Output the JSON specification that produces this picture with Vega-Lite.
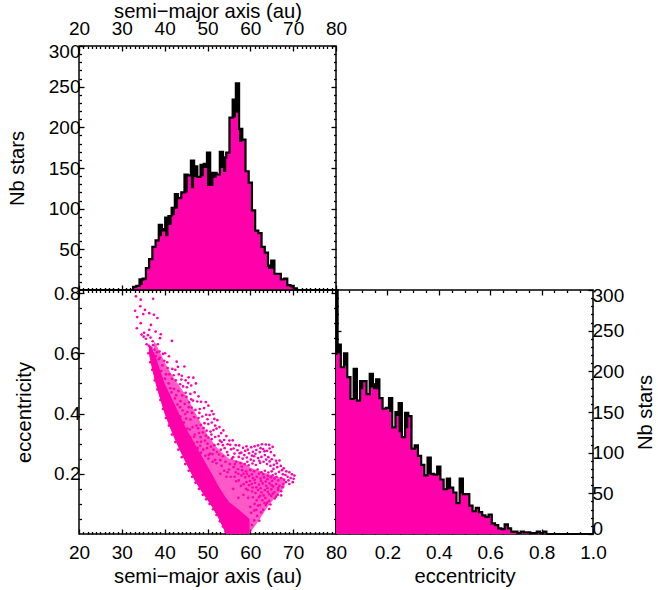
{"$schema":"https://vega.github.io/schema/vega-lite/v6.json","background":"white","padding":{"left":6,"top":0,"right":0,"bottom":0},"spacing":0,"bounds":"flush","align":"all","columns":2,"config":{"view":{"stroke":"black","strokeWidth":1.5},"font":"Liberation Sans","axis":{"labels":false,"domain":false,"grid":false,"ticks":true,"tickColor":"black","tickWidth":1.3,"zindex":1,"labelFont":"Liberation Sans","labelFontSize":19,"labelColor":"black","titleFont":"Liberation Sans","titleFontSize":20.2,"titleFontWeight":"normal","titleColor":"black","labelOverlap":false,"labelBound":false,"labelPadding":4}},"datasets":{
"top":[{"a":20,"n":0,"f":0},{"a":32.25,"n":0,"f":0},{"a":33,"n":4,"f":3},{"a":33.75,"n":5,"f":4},{"a":34.5,"n":13,"f":6},{"a":35.25,"n":14,"f":12},{"a":36,"n":27,"f":27},{"a":36.75,"n":38,"f":38},{"a":37.5,"n":53,"f":53},{"a":38.25,"n":61,"f":61},{"a":39,"n":80,"f":66},{"a":39.75,"n":75,"f":72},{"a":40.5,"n":89,"f":66},{"a":41.25,"n":91,"f":80},{"a":42,"n":101,"f":92},{"a":42.75,"n":118,"f":100},{"a":43.5,"n":113,"f":113},{"a":44.25,"n":120,"f":120},{"a":45,"n":142,"f":120},{"a":45.75,"n":141,"f":141},{"a":46.5,"n":159,"f":125},{"a":47.25,"n":152,"f":139},{"a":48,"n":139,"f":139},{"a":48.75,"n":154,"f":140},{"a":49.5,"n":155,"f":150},{"a":50.25,"n":169,"f":128},{"a":51,"n":144,"f":128},{"a":51.75,"n":144,"f":138},{"a":52.5,"n":142,"f":142},{"a":53.25,"n":170,"f":150},{"a":54,"n":163,"f":145},{"a":54.75,"n":169,"f":169},{"a":55.5,"n":212,"f":212},{"a":56.25,"n":234,"f":212},{"a":57,"n":254,"f":218},{"a":57.75,"n":198,"f":182},{"a":58.5,"n":185,"f":185},{"a":59.25,"n":146,"f":146},{"a":60,"n":132,"f":132},{"a":60.75,"n":98,"f":98},{"a":61.5,"n":73,"f":73},{"a":62.25,"n":70,"f":70},{"a":63,"n":53,"f":53},{"a":63.75,"n":46,"f":46},{"a":64.5,"n":30,"f":26},{"a":65.25,"n":36,"f":26},{"a":66,"n":20,"f":20},{"a":66.75,"n":20,"f":20},{"a":67.5,"n":13,"f":13},{"a":68.25,"n":14,"f":14},{"a":69,"n":6,"f":6},{"a":69.75,"n":5,"f":3},{"a":70.5,"n":2,"f":1},{"a":71.25,"n":0,"f":0},{"a":80,"n":0,"f":0}],
"right":[{"x":0,"n":300,"f":220},{"x":0.0125,"n":233,"f":222},{"x":0.025,"n":205,"f":205},{"x":0.0375,"n":222,"f":207},{"x":0.05,"n":193,"f":193},{"x":0.0625,"n":166,"f":166},{"x":0.075,"n":203,"f":166},{"x":0.0875,"n":164,"f":164},{"x":0.1,"n":188,"f":178},{"x":0.1125,"n":188,"f":188},{"x":0.125,"n":172,"f":172},{"x":0.1375,"n":197,"f":180},{"x":0.15,"n":184,"f":178},{"x":0.1625,"n":190,"f":178},{"x":0.175,"n":167,"f":167},{"x":0.1875,"n":154,"f":154},{"x":0.2,"n":155,"f":155},{"x":0.2125,"n":167,"f":150},{"x":0.225,"n":131,"f":131},{"x":0.2375,"n":150,"f":145},{"x":0.25,"n":161,"f":125},{"x":0.2625,"n":119,"f":119},{"x":0.275,"n":149,"f":130},{"x":0.2875,"n":145,"f":145},{"x":0.3,"n":105,"f":105},{"x":0.3125,"n":109,"f":105},{"x":0.325,"n":96,"f":96},{"x":0.3375,"n":85,"f":85},{"x":0.35,"n":72,"f":72},{"x":0.3625,"n":94,"f":74},{"x":0.375,"n":74,"f":74},{"x":0.3875,"n":73,"f":73},{"x":0.4,"n":83,"f":73},{"x":0.4125,"n":67,"f":67},{"x":0.425,"n":55,"f":55},{"x":0.4375,"n":68,"f":55},{"x":0.45,"n":57,"f":57},{"x":0.4625,"n":51,"f":51},{"x":0.475,"n":38,"f":38},{"x":0.4875,"n":68,"f":50},{"x":0.5,"n":49,"f":49},{"x":0.5125,"n":49,"f":49},{"x":0.525,"n":35,"f":35},{"x":0.5375,"n":28,"f":28},{"x":0.55,"n":32,"f":32},{"x":0.5625,"n":27,"f":27},{"x":0.575,"n":23,"f":23},{"x":0.5875,"n":21,"f":21},{"x":0.6,"n":24,"f":24},{"x":0.6125,"n":13,"f":13},{"x":0.625,"n":11,"f":11},{"x":0.6375,"n":7,"f":7},{"x":0.65,"n":6,"f":6},{"x":0.6625,"n":12,"f":10},{"x":0.675,"n":7,"f":7},{"x":0.6875,"n":3,"f":3},{"x":0.7,"n":3,"f":3},{"x":0.7125,"n":1,"f":1},{"x":0.725,"n":3,"f":3},{"x":0.7375,"n":2,"f":2},{"x":0.75,"n":2,"f":2},{"x":0.7625,"n":1,"f":1},{"x":0.775,"n":1,"f":1},{"x":0.7875,"n":3,"f":2},{"x":0.8,"n":1,"f":1},{"x":0.8125,"n":3,"f":2},{"x":0.825,"n":0,"f":0},{"x":1,"n":0,"f":0}],
"pts":[{"a":33.3,"e":0.789},{"a":34.4,"e":0.778},{"a":37.3,"e":0.781},{"a":34.3,"e":0.756},{"a":35.4,"e":0.744},{"a":36.4,"e":0.733},{"a":33.1,"e":0.741},{"a":33.6,"e":0.72},{"a":35,"e":0.73},{"a":37.5,"e":0.728},{"a":38.3,"e":0.717},{"a":34.4,"e":0.7},{"a":33.5,"e":0.683},{"a":36.8,"e":0.694},{"a":36.4,"e":0.678},{"a":37.9,"e":0.672},{"a":39.1,"e":0.663},{"a":38.9,"e":0.65},{"a":41.7,"e":0.641},{"a":34.6,"e":0.662},{"a":35.1,"e":0.655},{"a":35.6,"e":0.648},{"a":35.2,"e":0.668},{"a":36.1,"e":0.66},{"a":36.7,"e":0.652},{"a":37.2,"e":0.64},{"a":35.8,"e":0.63},{"a":36.3,"e":0.625},{"a":36.9,"e":0.618},{"a":37.6,"e":0.612},{"a":38.4,"e":0.63},{"a":38.8,"e":0.606},{"a":39.6,"e":0.598},{"a":40.1,"e":0.6},{"a":41,"e":0.59},{"a":40.6,"e":0.57},{"a":39.9,"e":0.575},{"a":42.8,"e":0.572},{"a":41.8,"e":0.548},{"a":42.5,"e":0.545},{"a":43.3,"e":0.53},{"a":44.6,"e":0.556},{"a":43.1,"e":0.555},{"a":44,"e":0.525},{"a":44.9,"e":0.51},{"a":45.6,"e":0.52},{"a":46.7,"e":0.519},{"a":47.3,"e":0.5},{"a":46.2,"e":0.493},{"a":45.2,"e":0.487},{"a":44.3,"e":0.49},{"a":43.6,"e":0.497},{"a":42.6,"e":0.51},{"a":41.7,"e":0.515},{"a":41.1,"e":0.53},{"a":47,"e":0.47},{"a":46,"e":0.465},{"a":45.1,"e":0.455},{"a":44.1,"e":0.46},{"a":43.2,"e":0.475},{"a":42.2,"e":0.482},{"a":48.5,"e":0.439},{"a":47.6,"e":0.44},{"a":46.6,"e":0.443},{"a":45.7,"e":0.437},{"a":44.7,"e":0.432},{"a":43.7,"e":0.441},{"a":50.2,"e":0.426},{"a":49.2,"e":0.418},{"a":48.2,"e":0.415},{"a":47.2,"e":0.412},{"a":46.3,"e":0.42},{"a":45.3,"e":0.405},{"a":44.2,"e":0.41},{"a":51,"e":0.408},{"a":50.5,"e":0.395},{"a":49.7,"e":0.396},{"a":48.8,"e":0.39},{"a":47.9,"e":0.385},{"a":46.9,"e":0.388},{"a":46,"e":0.38},{"a":45,"e":0.383},{"a":52.3,"e":0.378},{"a":51.6,"e":0.382},{"a":51,"e":0.37},{"a":50.2,"e":0.365},{"a":49.3,"e":0.368},{"a":48.4,"e":0.362},{"a":47.4,"e":0.36},{"a":46.5,"e":0.355},{"a":52.8,"e":0.355},{"a":52.1,"e":0.35},{"a":51.4,"e":0.345},{"a":50.7,"e":0.34},{"a":49.8,"e":0.343},{"a":48.9,"e":0.337},{"a":48,"e":0.335},{"a":47,"e":0.33},{"a":53.7,"e":0.344},{"a":53.2,"e":0.335},{"a":52.6,"e":0.325},{"a":51.8,"e":0.322},{"a":51,"e":0.315},{"a":50.2,"e":0.32},{"a":49.4,"e":0.31},{"a":48.5,"e":0.306},{"a":47.6,"e":0.305},{"a":54.4,"e":0.325},{"a":53.9,"e":0.312},{"a":53.3,"e":0.305},{"a":52.5,"e":0.298},{"a":51.6,"e":0.295},{"a":50.8,"e":0.29},{"a":49.9,"e":0.285},{"a":49,"e":0.28},{"a":55.9,"e":0.311},{"a":55.1,"e":0.31},{"a":54.7,"e":0.298},{"a":54,"e":0.285},{"a":53.1,"e":0.28},{"a":52.2,"e":0.272},{"a":51.2,"e":0.265},{"a":50.3,"e":0.262},{"a":57.4,"e":0.294},{"a":56.6,"e":0.295},{"a":58.3,"e":0.286},{"a":59.1,"e":0.291},{"a":60.2,"e":0.288},{"a":61,"e":0.291},{"a":61.8,"e":0.294},{"a":62.7,"e":0.298},{"a":63.6,"e":0.297},{"a":64.4,"e":0.296},{"a":65.2,"e":0.289},{"a":57,"e":0.278},{"a":57.9,"e":0.27},{"a":58.8,"e":0.276},{"a":59.7,"e":0.268},{"a":60.6,"e":0.273},{"a":61.4,"e":0.279},{"a":62.2,"e":0.272},{"a":63,"e":0.282},{"a":63.9,"e":0.276},{"a":64.8,"e":0.272},{"a":65.6,"e":0.261},{"a":55.5,"e":0.281},{"a":56.3,"e":0.267},{"a":57.3,"e":0.256},{"a":58.2,"e":0.25},{"a":59.2,"e":0.254},{"a":60.1,"e":0.247},{"a":60.9,"e":0.258},{"a":61.8,"e":0.252},{"a":62.6,"e":0.256},{"a":63.4,"e":0.262},{"a":64.2,"e":0.255},{"a":65,"e":0.248},{"a":66,"e":0.243},{"a":66.8,"e":0.244},{"a":54.8,"e":0.262},{"a":55.7,"e":0.25},{"a":56.7,"e":0.24},{"a":57.7,"e":0.235},{"a":58.7,"e":0.232},{"a":59.6,"e":0.228},{"a":60.5,"e":0.234},{"a":61.3,"e":0.229},{"a":62.3,"e":0.236},{"a":63.1,"e":0.24},{"a":63.9,"e":0.232},{"a":64.7,"e":0.226},{"a":65.5,"e":0.23},{"a":66.3,"e":0.222},{"a":67.1,"e":0.226},{"a":67.8,"e":0.218},{"a":53.6,"e":0.258},{"a":53,"e":0.245},{"a":54.2,"e":0.24},{"a":55.2,"e":0.232},{"a":56.1,"e":0.222},{"a":57.1,"e":0.215},{"a":58.1,"e":0.212},{"a":59,"e":0.208},{"a":60,"e":0.212},{"a":60.9,"e":0.208},{"a":61.7,"e":0.214},{"a":62.6,"e":0.205},{"a":63.4,"e":0.21},{"a":64.2,"e":0.204},{"a":65,"e":0.208},{"a":65.9,"e":0.2},{"a":66.7,"e":0.206},{"a":67.6,"e":0.198},{"a":68.4,"e":0.208},{"a":69.1,"e":0.205},{"a":69.7,"e":0.198},{"a":70.3,"e":0.194},{"a":70.1,"e":0.183},{"a":69.9,"e":0.172},{"a":69.4,"e":0.186},{"a":68.7,"e":0.19},{"a":67.9,"e":0.18},{"a":67.2,"e":0.186},{"a":66.5,"e":0.178},{"a":65.6,"e":0.184},{"a":64.8,"e":0.188},{"a":64,"e":0.182},{"a":63.2,"e":0.188},{"a":62.4,"e":0.184},{"a":61.5,"e":0.19},{"a":60.6,"e":0.186},{"a":59.7,"e":0.192},{"a":58.8,"e":0.188},{"a":57.9,"e":0.194},{"a":69.1,"e":0.166},{"a":68.3,"e":0.172},{"a":67.5,"e":0.156},{"a":67.7,"e":0.166},{"a":66.8,"e":0.16},{"a":66,"e":0.166},{"a":65.3,"e":0.158},{"a":64.5,"e":0.168},{"a":63.7,"e":0.16},{"a":62.9,"e":0.168},{"a":62,"e":0.164},{"a":61.1,"e":0.17},{"a":60.3,"e":0.166},{"a":67.2,"e":0.142},{"a":67.2,"e":0.128},{"a":66.5,"e":0.146},{"a":66.4,"e":0.13},{"a":65.6,"e":0.138},{"a":65.7,"e":0.118},{"a":64.9,"e":0.148},{"a":64.9,"e":0.126},{"a":64.1,"e":0.14},{"a":64.4,"e":0.11},{"a":63.4,"e":0.146},{"a":63.5,"e":0.12},{"a":62.6,"e":0.138},{"a":62.8,"e":0.112},{"a":61.8,"e":0.146},{"a":62,"e":0.122},{"a":61.2,"e":0.136},{"a":64.4,"e":0.083},{"a":63.6,"e":0.096},{"a":63,"e":0.08},{"a":62.2,"e":0.096},{"a":62.1,"e":0.044},{"a":61.6,"e":0.06},{"a":61.4,"e":0.08},{"a":61,"e":0.1},{"a":60.6,"e":0.122},{"a":60.2,"e":0.07},{"a":60.4,"e":0.03},{"a":60.9,"e":0.045},{"a":60,"e":0.09},{"a":59.5,"e":0.12},{"a":59,"e":0.15},{"a":58.4,"e":0.13},{"a":57.8,"e":0.16},{"a":57.2,"e":0.12},{"a":56.7,"e":0.175},{"a":56,"e":0.15},{"a":55.4,"e":0.19},{"a":54.7,"e":0.205},{"a":53.9,"e":0.21},{"a":53,"e":0.2},{"a":52.1,"e":0.235},{"a":51.2,"e":0.24},{"a":50.2,"e":0.25},{"a":49.5,"e":0.26},{"a":48.5,"e":0.27},{"a":47.7,"e":0.285},{"a":46.8,"e":0.3},{"a":46,"e":0.32},{"a":45.3,"e":0.35},{"a":44.5,"e":0.37},{"a":43.7,"e":0.39},{"a":43,"e":0.43},{"a":42.4,"e":0.45},{"a":41.6,"e":0.47},{"a":40.9,"e":0.5},{"a":40.3,"e":0.53},{"a":39.5,"e":0.56},{"a":38.6,"e":0.58},{"a":37.9,"e":0.59},{"a":36.2,"e":0.6},{"a":36.6,"e":0.57},{"a":37.1,"e":0.545},{"a":37.7,"e":0.51},{"a":38.3,"e":0.48},{"a":39,"e":0.445},{"a":39.6,"e":0.415},{"a":40.3,"e":0.385},{"a":41,"e":0.36},{"a":41.7,"e":0.33},{"a":42.5,"e":0.305},{"a":43.2,"e":0.28},{"a":44,"e":0.255},{"a":44.8,"e":0.232},{"a":45.6,"e":0.21},{"a":46.4,"e":0.19},{"a":47.2,"e":0.17},{"a":48,"e":0.15},{"a":48.9,"e":0.13},{"a":49.7,"e":0.115},{"a":50.5,"e":0.1},{"a":51.3,"e":0.082},{"a":52.1,"e":0.063},{"a":52.9,"e":0.042},{"a":53.6,"e":0.025},{"a":54.2,"e":0.008},{"a":47.5,"e":0.263},{"a":50.4,"e":0.193},{"a":48.7,"e":0.247},{"a":45.9,"e":0.347},{"a":46.9,"e":0.323},{"a":48.3,"e":0.293},{"a":50.6,"e":0.267},{"a":51.8,"e":0.246},{"a":53.3,"e":0.226},{"a":54.4,"e":0.19},{"a":56.3,"e":0.19},{"a":57.3,"e":0.178},{"a":58.4,"e":0.165},{"a":59.4,"e":0.146},{"a":60.4,"e":0.141},{"a":61.5,"e":0.112},{"a":62.5,"e":0.072},{"a":63.3,"e":0.103},{"a":60.9,"e":0.078},{"a":44.8,"e":0.398},{"a":43.6,"e":0.421},{"a":42.7,"e":0.461},{"a":41.3,"e":0.484},{"a":40.1,"e":0.515},{"a":39.2,"e":0.541},{"a":38.2,"e":0.603},{"a":37.3,"e":0.627},{"a":38.9,"e":0.585},{"a":40.7,"e":0.551},{"a":42.1,"e":0.527},{"a":43.9,"e":0.513},{"a":45.5,"e":0.501},{"a":47.9,"e":0.457},{"a":49.6,"e":0.438},{"a":51.4,"e":0.398},{"a":50,"e":0.381},{"a":48.1,"e":0.402},{"a":46.4,"e":0.402},{"a":45.6,"e":0.421},{"a":46.2,"e":0.447},{"a":44.9,"e":0.469},{"a":47.8,"e":0.351},{"a":49.1,"e":0.352},{"a":51.8,"e":0.36},{"a":52.9,"e":0.31},{"a":50.9,"e":0.33},{"a":49.6,"e":0.326},{"a":48.4,"e":0.322},{"a":53.6,"e":0.295},{"a":55.3,"e":0.296},{"a":54.6,"e":0.272},{"a":52.7,"e":0.264},{"a":51.4,"e":0.28},{"a":50,"e":0.3},{"a":56.1,"e":0.284},{"a":56,"e":0.255},{"a":57.5,"e":0.268},{"a":58.6,"e":0.262},{"a":59.4,"e":0.28},{"a":60.4,"e":0.26},{"a":61.2,"e":0.266},{"a":62.4,"e":0.285},{"a":63.3,"e":0.275},{"a":64.5,"e":0.284},{"a":63.7,"e":0.247},{"a":62.1,"e":0.243},{"a":60.8,"e":0.243},{"a":59.3,"e":0.24},{"a":58,"e":0.224},{"a":56.4,"e":0.232},{"a":55,"e":0.214},{"a":64.5,"e":0.241},{"a":65.4,"e":0.216},{"a":66.2,"e":0.235},{"a":67.4,"e":0.212},{"a":68.2,"e":0.196},{"a":68.9,"e":0.178},{"a":66.1,"e":0.19},{"a":65.2,"e":0.195},{"a":64.1,"e":0.193},{"a":63,"e":0.198},{"a":62,"e":0.2},{"a":60.4,"e":0.198},{"a":59.2,"e":0.2},{"a":58.4,"e":0.2},{"a":57.2,"e":0.2},{"a":56.6,"e":0.205},{"a":65.1,"e":0.176},{"a":63.6,"e":0.174},{"a":62.5,"e":0.176},{"a":61,"e":0.18},{"a":59.9,"e":0.176},{"a":59.1,"e":0.172},{"a":66.5,"e":0.153},{"a":65,"e":0.162},{"a":64,"e":0.152},{"a":62.4,"e":0.152},{"a":61.4,"e":0.155},{"a":60.5,"e":0.154},{"a":59.7,"e":0.162},{"a":66,"e":0.124},{"a":65.2,"e":0.133},{"a":64.4,"e":0.132},{"a":63.1,"e":0.128},{"a":62.3,"e":0.127},{"a":61.8,"e":0.094},{"a":63.9,"e":0.104},{"a":64.7,"e":0.098}],
"core":[{"a":36.3,"lo":0.6,"hi":0.63},{"a":37,"lo":0.55,"hi":0.62},{"a":38,"lo":0.495,"hi":0.585},{"a":39,"lo":0.445,"hi":0.54},{"a":40,"lo":0.4,"hi":0.5},{"a":41,"lo":0.362,"hi":0.47},{"a":43,"lo":0.295,"hi":0.41},{"a":45,"lo":0.235,"hi":0.35},{"a":47,"lo":0.178,"hi":0.3},{"a":49,"lo":0.133,"hi":0.25},{"a":51,"lo":0.092,"hi":0.2},{"a":52.7,"lo":0.048,"hi":0.155},{"a":54.3,"lo":0,"hi":0.12},{"a":55.1,"lo":0,"hi":0.105},{"a":57.4,"lo":0,"hi":0.08},{"a":59.8,"lo":0,"hi":0.05}],
"mid":[{"a":37.5,"lo":0.52,"hi":0.64},{"a":38,"lo":0.495,"hi":0.63},{"a":40,"lo":0.4,"hi":0.57},{"a":42,"lo":0.325,"hi":0.52},{"a":45,"lo":0.235,"hi":0.46},{"a":48,"lo":0.155,"hi":0.38},{"a":50,"lo":0.113,"hi":0.33},{"a":52,"lo":0.07,"hi":0.29},{"a":55,"lo":0,"hi":0.25},{"a":58,"lo":0,"hi":0.24},{"a":60,"lo":0.005,"hi":0.22},{"a":62,"lo":0.045,"hi":0.21},{"a":64,"lo":0.09,"hi":0.2},{"a":66,"lo":0.125,"hi":0.19},{"a":68,"lo":0.155,"hi":0.185}]
},
"concat":[
{"width":257,"height":244,"data":{"name":"top"},"layer":[
{"mark":{"type":"area","interpolate":"step","color":"black"},"encoding":{"x":{"field":"a","type":"quantitative","scale":{"domain":[20,80],"nice":false},"axis":{"orient":"top","title":"semi−major axis (au)","labels":true,"labelFlush":false,"values":[20,30,40,50,60,70,80],"tickSize":-5,"titlePadding":-2,"labelPadding":13}},"y":{"field":"n","type":"quantitative","scale":{"domain":[0,300],"nice":false},"axis":{"orient":"left","title":"Nb stars","labels":true,"labelFlush":true,"labelFlushOffset":4,"values":[50,100,150,200,250,300],"tickSize":-5,"titlePadding":21}}}},
{"mark":{"type":"area","interpolate":"step","color":"#ff00aa"},"encoding":{"x":{"field":"a","type":"quantitative","axis":{"orient":"bottom","title":null,"values":[20,30,40,50,60,70,80],"tickSize":-5}},"y":{"field":"f","type":"quantitative","axis":{"orient":"right","title":null,"values":[50,100,150,200,250,300],"tickSize":-5}}}},
{"mark":{"type":"line","interpolate":"step","color":"black","strokeWidth":2.2},"encoding":{"x":{"field":"a","type":"quantitative","axis":{"orient":"top","title":null,"values":[21,22,23,24,25,26,27,28,29,31,32,33,34,35,36,37,38,39,41,42,43,44,45,46,47,48,49,51,52,53,54,55,56,57,58,59,61,62,63,64,65,66,67,68,69,71,72,73,74,75,76,77,78,79],"tickSize":-2.5}},"y":{"field":"n","type":"quantitative","axis":{"orient":"left","title":null,"values":[10,20,30,40,60,70,80,90,110,120,130,140,160,170,180,190,210,220,230,240,260,270,280,290],"tickSize":-2.5}}}},
{"mark":{"type":"point","opacity":0},"encoding":{"x":{"field":"a","type":"quantitative","axis":{"orient":"bottom","title":null,"values":[21,22,23,24,25,26,27,28,29,31,32,33,34,35,36,37,38,39,41,42,43,44,45,46,47,48,49,51,52,53,54,55,56,57,58,59,61,62,63,64,65,66,67,68,69,71,72,73,74,75,76,77,78,79],"tickSize":-2.5}},"y":{"field":"n","type":"quantitative","axis":{"orient":"right","title":null,"values":[10,20,30,40,60,70,80,90,110,120,130,140,160,170,180,190,210,220,230,240,260,270,280,290],"tickSize":-2.5}}}}
],"resolve":{"axis":{"x":"independent","y":"independent"}}},
{"width":257,"height":244,"view":{"stroke":null},"data":{"values":[]},"mark":{"type":"point","opacity":0}},
{"width":257,"height":244,"layer":[
{"data":{"name":"mid"},"mark":{"type":"area","color":"#ff00aa","opacity":0.65},"encoding":{"x":{"field":"a","type":"quantitative","scale":{"domain":[20,80],"nice":false},"axis":{"orient":"bottom","title":"semi−major axis (au)","labels":true,"labelFlush":false,"values":[20,30,40,50,60,70,80],"tickSize":-5,"titlePadding":4,"labelPadding":14}},"y":{"field":"lo","type":"quantitative","scale":{"domain":[0,0.81],"nice":false},"axis":{"orient":"left","title":"eccentricity","labels":true,"labelFlush":false,"format":".1f","values":[0.2,0.4,0.6,0.8],"tickSize":-5,"titlePadding":19}},"y2":{"field":"hi"}}},
{"data":{"name":"core"},"mark":{"type":"area","color":"#ff00aa"},"encoding":{"x":{"field":"a","type":"quantitative","axis":{"orient":"top","title":null,"values":[20,30,40,50,60,70,80],"tickSize":-5}},"y":{"field":"lo","type":"quantitative","axis":{"orient":"right","title":null,"values":[0.2,0.4,0.6,0.8],"tickSize":-5}},"y2":{"field":"hi"}}},
{"data":{"name":"pts"},"mark":{"type":"point","filled":true,"color":"#ff00aa","opacity":1,"size":7},"encoding":{"x":{"field":"a","type":"quantitative","axis":{"orient":"bottom","title":null,"values":[21,22,23,24,25,26,27,28,29,31,32,33,34,35,36,37,38,39,41,42,43,44,45,46,47,48,49,51,52,53,54,55,56,57,58,59,61,62,63,64,65,66,67,68,69,71,72,73,74,75,76,77,78,79],"tickSize":-2.5}},"y":{"field":"e","type":"quantitative","axis":{"orient":"left","title":null,"values":[0.05,0.1,0.15,0.25,0.3,0.35,0.45,0.5,0.55,0.65,0.7,0.75],"tickSize":-2.5}}}},
{"data":{"name":"pts"},"mark":{"type":"point","opacity":0},"encoding":{"x":{"field":"a","type":"quantitative","axis":{"orient":"top","title":null,"values":[21,22,23,24,25,26,27,28,29,31,32,33,34,35,36,37,38,39,41,42,43,44,45,46,47,48,49,51,52,53,54,55,56,57,58,59,61,62,63,64,65,66,67,68,69,71,72,73,74,75,76,77,78,79],"tickSize":-2.5}},"y":{"field":"e","type":"quantitative","axis":{"orient":"right","title":null,"values":[0.05,0.1,0.15,0.25,0.3,0.35,0.45,0.5,0.55,0.65,0.7,0.75],"tickSize":-2.5}}}}
],"resolve":{"axis":{"x":"independent","y":"independent"}}},
{"width":257,"height":244,"data":{"name":"right"},"layer":[
{"mark":{"type":"area","interpolate":"step","color":"black"},"encoding":{"x":{"field":"x","type":"quantitative","scale":{"domain":[0,1],"nice":false},"axis":{"orient":"bottom","title":"eccentricity","labels":true,"labelFlush":false,"format":".1f","values":[0.2,0.4,0.6,0.8,1],"tickSize":-5,"titlePadding":4,"labelPadding":14}},"y":{"field":"n","type":"quantitative","scale":{"domain":[0,300],"nice":false},"axis":{"orient":"right","title":"Nb stars","titleAngle":270,"titleBaseline":"top","labels":true,"labelFlush":true,"labelFlushOffset":4,"values":[0,50,100,150,200,250,300],"tickSize":-5,"titlePadding":12}}}},
{"mark":{"type":"area","interpolate":"step","color":"#ff00aa"},"encoding":{"x":{"field":"x","type":"quantitative","axis":{"orient":"top","title":null,"values":[0.2,0.4,0.6,0.8],"tickSize":-5}},"y":{"field":"f","type":"quantitative","axis":{"orient":"left","title":null,"values":[50,100,150,200,250],"tickSize":-5}}}},
{"mark":{"type":"line","interpolate":"step","color":"black","strokeWidth":2.2},"encoding":{"x":{"field":"x","type":"quantitative","axis":{"orient":"bottom","title":null,"values":[0.05,0.1,0.15,0.25,0.3,0.35,0.45,0.5,0.55,0.65,0.7,0.75,0.85,0.9,0.95],"tickSize":-2.5}},"y":{"field":"n","type":"quantitative","axis":{"orient":"right","title":null,"values":[10,20,30,40,60,70,80,90,110,120,130,140,160,170,180,190,210,220,230,240,260,270,280,290],"tickSize":-2.5}}}},
{"mark":{"type":"point","opacity":0},"encoding":{"x":{"field":"x","type":"quantitative","axis":{"orient":"top","title":null,"values":[0.05,0.1,0.15,0.25,0.3,0.35,0.45,0.5,0.55,0.65,0.7,0.75,0.85,0.9,0.95],"tickSize":-2.5}},"y":{"field":"n","type":"quantitative","axis":{"orient":"left","title":null,"values":[10,20,30,40,60,70,80,90,110,120,130,140,160,170,180,190,210,220,230,240,260,270,280,290],"tickSize":-2.5}}}}
],"resolve":{"axis":{"x":"independent","y":"independent"}}}
]}
